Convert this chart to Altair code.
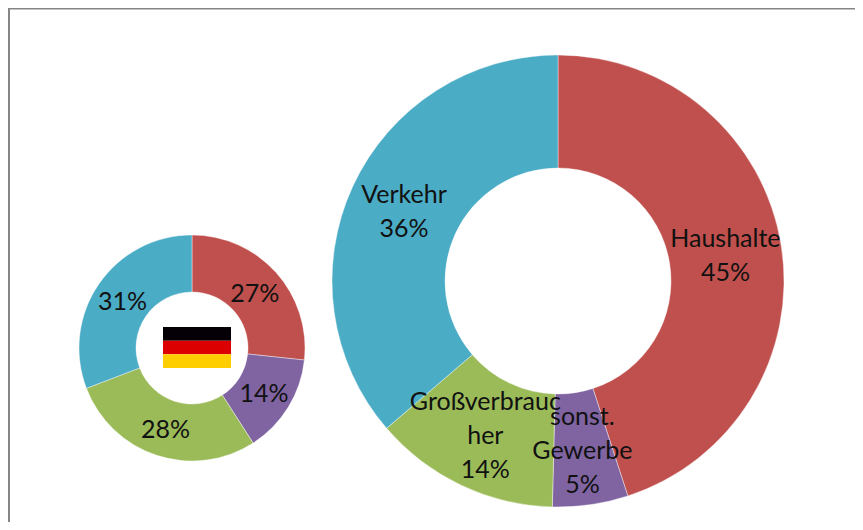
import altair as alt
import pandas as pd

categories = ["Haushalte", "sonst. Gewerbe", "Großverbraucher", "Verkehr"]
rank = [1, 2, 3, 4]
colors = ["#C0504D", "#8064A2", "#9BBB59", "#4BACC6"]

big_values = [45.0, 5.4, 13.3, 36.3]
big_labels = ["Haushalte\n45%", "sonst.\nGewerbe\n5%", "Großverbrauc\nher\n14%", "Verkehr\n36%"]

small_values = [26.7, 14.2, 28.3, 30.8]
small_labels = ["27%", "14%", "28%", "31%"]

flag_colors = ["#050005", "#DD0000", "#FFCE00"]

FONT = "Lato"
FONT_SIZE = 25
LINE_HEIGHT = 34


def frame(values, labels):
    return pd.DataFrame({
        "cat": categories, "rank": rank, "value": values, "label": labels,
        "lines": [s.count("\n") + 1 for s in labels],
    })


theta = alt.Theta("value:Q", stack=True, scale=alt.Scale(domain=[0, 100], range=[0, 6.283185307]))
color = alt.Color("cat:N", scale=alt.Scale(domain=categories, range=colors), legend=None)
order = alt.Order("rank:O")


def donut(df, cx, cy, outer, inner):
    layers = [alt.Chart(df).mark_arc(
        radius=outer, innerRadius=inner, stroke="#ffffff", strokeWidth=0.4
    ).encode(theta=theta, color=color, order=order, x=alt.value(cx), y=alt.value(cy))]
    for n in sorted(df["lines"].unique()):
        # the stack is computed first, then only the labels of this line count are drawn
        layers.append(
            alt.Chart(df).transform_stack(
                stack="value", groupby=[], sort=[alt.SortField("rank")],
                as_=["v0", "v1"],
            ).transform_calculate(mid="(datum.v0 + datum.v1) / 2").transform_filter(
                alt.datum.lines == int(n)
            ).mark_text(
                radius=(outer + inner) / 2, font=FONT, fontSize=FONT_SIZE, color="#111111",
                align="center", baseline="middle", lineBreak="\n", lineHeight=LINE_HEIGHT,
                dy=2 - (int(n) - 1) * LINE_HEIGHT / 2,
            ).encode(
                theta=alt.Theta("mid:Q", stack=None, scale=alt.Scale(domain=[0, 100], range=[0, 6.283185307])),
                text="label:N", x=alt.value(cx), y=alt.value(cy),
            )
        )
    return alt.layer(*layers)


big = donut(frame(big_values, big_labels), 550, 273, 226, 113)
small = donut(frame(small_values, small_labels), 184, 340, 113, 56)

flag_layers = []
for i, c in enumerate(flag_colors):
    flag_layers.append(
        alt.Chart(pd.DataFrame({"c": [c]})).mark_rect(color=c).encode(
            x=alt.value(155), x2=alt.value(223),
            y=alt.value(319 + i * 13.67), y2=alt.value(319 + (i + 1) * 13.67),
        )
    )

border = [
    alt.Chart(pd.DataFrame({"a": [0]})).mark_rule(color="#868686", strokeWidth=2).encode(
        x=alt.value(1), y=alt.value(0), y2=alt.value(514)),
    alt.Chart(pd.DataFrame({"a": [0]})).mark_rule(color="#868686", strokeWidth=2).encode(
        y=alt.value(0.5), x=alt.value(0), x2=alt.value(847)),
]

chart = alt.layer(*border, big, small, *flag_layers).properties(
    width=847, height=514, padding=0,
    autosize=alt.AutoSizeParams(type="none"),
    background="#ffffff",
).configure_view(stroke=None)

chart.save("out.html", embed_options={"renderer": "svg", "actions": False})
